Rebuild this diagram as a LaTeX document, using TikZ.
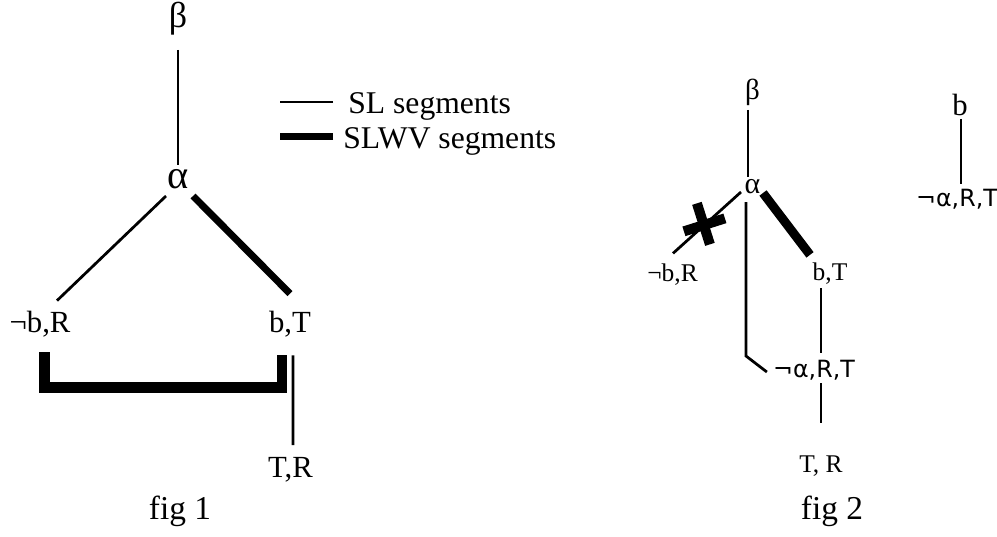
\documentclass[tikz,border=0pt]{standalone}
\usepackage{fontspec}
\setmainfont{Liberation Serif}
\newfontfamily\dejavu{DejaVu Sans}
\begin{document}
\begin{tikzpicture}[
  x=0.02cm, y=-0.02cm,
  lab/.style={inner sep=0pt, font=\fontsize{17.5}{20}\selectfont},
  leg/.style={inner sep=0pt, font=\fontsize{18}{21}\selectfont},
  labsm/.style={inner sep=0pt, font=\fontsize{14.5}{17}\selectfont},
  labsf/.style={inner sep=0pt, font=\dejavu\fontsize{13.5}{16}\selectfont},
  figlab/.style={inner sep=0pt, font=\fontsize{19}{22}\selectfont},
  sl/.style={line width=0.055cm},
  slwv/.style={line width=0.14cm},
  cross/.style={line width=0.2cm},
]
\useasboundingbox (0,0) rectangle (997,537);

% fig 1
\node[lab, font=\fontsize{20.5}{22}\selectfont] (b1) at (178,19) {β};
\node[lab, font=\fontsize{23}{24}\selectfont]   (a1) at (178,179.5) {α};
\node[lab]    (nbR1) at (40,324)    {¬b,R};
\node[lab]    (bT1)  at (290,324)   {b,T};
\node[lab]    (TR1)  at (290.5,470) {T,R};
\node[figlab] (fig1) at (180,511)   {fig 1};

\draw[sl] ([shift={(0,31)}]b1.center) -- ([shift={(0,-14.5)}]a1.center);
\draw[sl] ([shift={(-12,16.5)}]a1.center) -- ([shift={(17,-10)}]nbR1.north);
\draw[slwv] ([shift={(15,16.5)}]a1.center) -- ([shift={(0,-17)}]bT1.north);
\draw[slwv, line width=0.21cm, line join=miter]
  ([shift={(4.5,15)}]nbR1.south) -- ++(0,35) -| ([shift={(-8,18)}]bT1.south);
\draw[sl] ([shift={(3,18)}]bT1.south) -- ([shift={(2.5,-12)}]TR1.north);

% legend
\node[leg, anchor=west] (lsl)   at (348,106.5) {SL segments};
\node[leg, anchor=west] (lslwv) at (343,141.5) {SLWV segments};
\draw[sl]   ([shift={(-15,-4.5)}]lsl.west) -- ++(-53,0);
\draw[slwv] ([shift={(-10,-5)}]lslwv.west) -- ++(-53,0);

% fig 2
\node[labsm, font=\fontsize{16.5}{18}\selectfont] (b2) at (752.5,92.5)  {β};
\node[labsm, font=\fontsize{17}{18}\selectfont]   (a2) at (752.5,186.5) {α};
\node[labsm]  (nbR2)  at (672.5,274.5) {¬b,R};
\node[labsm]  (bT2)   at (830,274)     {b,T};
\node[labsf]  (naRT2) at (814,370)     {¬α,R,T};
\node[labsm]  (TR2)   at (821,466)     {T, R};
\node[figlab] (fig2)  at (832,511)     {fig 2};
\node[labsm, font=\fontsize{17.5}{19}\selectfont] (b3) at (960,105) {b};
\node[labsf]  (naRT3) at (957,199)     {¬α,R,T};

\draw[sl] ([shift={(-4.5,17.5)}]b2.center) -- ([shift={(-4.5,-9.5)}]a2.center);
\draw[sl] ([shift={(-11.5,5.5)}]a2.center) -- coordinate[pos=0.56] (xc)
  ([shift={(0.5,-10)}]nbR2.north);
\draw[cross] ([shift={(-6,-23)}]xc) -- ([shift={(7,18)}]xc);
\draw[cross] ([shift={(-19,5)}]xc) -- ([shift={(22,-8)}]xc);
\draw[slwv, line width=0.18cm] ([shift={(10.5,6.5)}]a2.center) -- ([shift={(-20,-8)}]bT2.north);
\draw[sl] ([shift={(-9,3)}]bT2.south) -- ([shift={(7,-7)}]naRT2.north);
\draw[sl] ([shift={(7,3)}]naRT2.south) -- ([shift={(0,-32)}]TR2.north);
\draw[sl] ([shift={(-6.5,15.5)}]a2.center) -- ([shift={(-6.5,-14)}]a2 |- naRT2.west)
  -- ([shift={(-6,2)}]naRT2.west);
\draw[sl] ([shift={(1,14)}]b3.center) -- ([shift={(4,-5)}]naRT3.north);
\end{tikzpicture}
\end{document}
